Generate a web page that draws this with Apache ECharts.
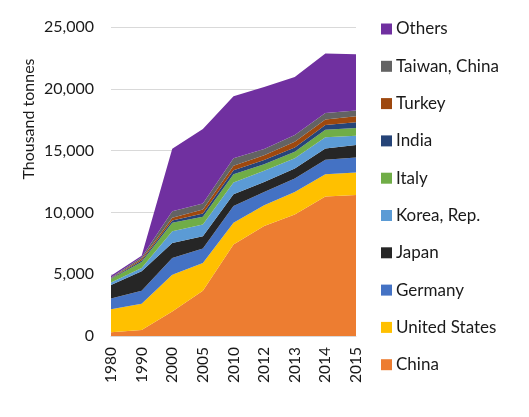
<!DOCTYPE html>
<html>
<head>
<meta charset="utf-8">
<script src="https://cdn.jsdelivr.net/npm/echarts@6/dist/echarts.min.js"></script>
<style>html,body{margin:0;padding:0;background:#fff;}#c{width:529px;height:417px;}</style>
</head>
<body>
<div id="c"></div>
<script>
const years = ['1980','1990','2000','2005','2010','2012','2013','2014','2015'];
const china = [300, 490, 1980, 3660, 7400, 8890, 9840, 11280, 11410];
const unitedStates = [1870, 2110, 2980, 2250, 1760, 1680, 1810, 1810, 1820];
const germany = [860, 1060, 1350, 1160, 1350, 1080, 1090, 1160, 1220];
const japan = [1090, 1570, 1220, 1010, 950, 810, 810, 930, 1000];
const korea = [210, 270, 950, 940, 950, 900, 840, 890, 760];
const italy = [280, 490, 680, 630, 680, 540, 510, 620, 620];
const india = [40, 120, 190, 270, 320, 330, 360, 380, 460];
const turkey = [30, 120, 220, 320, 360, 400, 460, 440, 490];
const taiwan = [60, 140, 530, 490, 620, 490, 540, 540, 460];
const others = [140, 130, 5050, 6020, 5010, 5020, 4690, 4800, 4550];
const yTicks = [0, 5000, 10000, 15000, 20000, 25000];

const seriesDefs = [
  ['China', china, '#ED7D31'],
  ['United States', unitedStates, '#FFC000'],
  ['Germany', germany, '#4472C4'],
  ['Japan', japan, '#262626'],
  ['Korea, Rep.', korea, '#5B9BD5'],
  ['Italy', italy, '#70AD47'],
  ['India', india, '#264478'],
  ['Turkey', turkey, '#9E480E'],
  ['Taiwan, China', taiwan, '#636363'],
  ['Others', others, '#7030A0']
];

const chart = echarts.init(document.getElementById('c'));
const font = 'Lato, "Open Sans", sans-serif';
chart.setOption({
  animation: false,
  textStyle: {fontFamily: font},
  grid: {left: 111, right: 173, top: 27, bottom: 81, containLabel: false},
  legend: {
    orient: 'vertical', left: 381, top: 20.5, padding: 0,
    data: seriesDefs.map(s => s[0]).reverse(),
    icon: 'rect', itemWidth: 11, itemHeight: 11, itemGap: 20.3,
    textStyle: {fontSize: 17, color: '#1a1a1a', fontFamily: font, lineHeight: 17, padding: [0,0,0,-1]}
  },
  xAxis: {
    type: 'category', data: years, boundaryGap: false,
    axisLine: {show: true, lineStyle: {color: '#d9d9d9'}},
    axisTick: {show: false},
    axisLabel: {rotate: 90, fontSize: 15.5, color: '#1a1a1a', margin: 11, fontFamily: font}
  },
  yAxis: {
    type: 'value', min: yTicks[0], max: yTicks[yTicks.length-1], interval: 5000,
    axisLine: {show: false}, axisTick: {show: false},
    splitLine: {lineStyle: {color: '#d9d9d9'}},
    axisLabel: {fontSize: 16, color: '#1a1a1a', margin: 17, fontFamily: font,
      formatter: v => v.toLocaleString('en-US')}
  },
  graphic: [{
    type: 'text', x: 29, y: 119, rotation: Math.PI/2,
    style: {text: 'Thousand tonnes', fontSize: 16, fill: '#1a1a1a', fontFamily: font,
      align: 'center', verticalAlign: 'middle'}
  }],
  series: seriesDefs.map(([name, data, color]) => ({
    name, type: 'line', stack: 'total', data,
    showSymbol: false, symbol: 'none',
    lineStyle: {width: 0}, itemStyle: {color},
    areaStyle: {color, opacity: 1}
  }))
});
</script>
</body>
</html>
